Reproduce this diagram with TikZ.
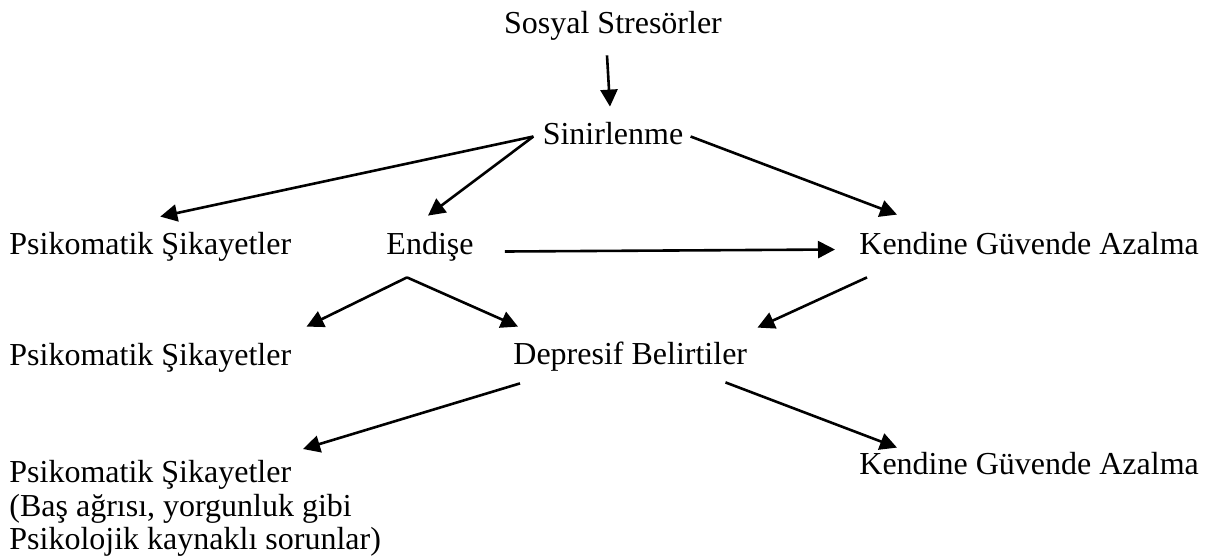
\documentclass[tikz,border=0pt]{standalone}
\usepackage{fontspec}
\setmainfont{Liberation Serif}
\usetikzlibrary{arrows.meta}

\begin{document}
\begin{tikzpicture}[x=0.5pt,y=-0.5pt]
		\tikzset{>={Triangle[length=8.5pt,width=8.5pt]}}
		\tikzset{lbl/.style={inner sep=0pt,font=\fontsize{16}{16.75}\selectfont,text height=11pt,text depth=3.5pt}}
		\tikzset{arr/.style={->,line width=1.3pt}}
		
		\useasboundingbox (0,0) rectangle (1211,558);
		
		\node[lbl,anchor=base] (sos) at (613,33) {Sosyal Stresörler};
		\node[lbl,anchor=base] (sin) at (613,144) {Sinirlenme};
		
		\node[lbl,anchor=base west] (psk1) at (9,254) {Psikomatik Şikayetler};
		\node[lbl,anchor=base] (end) at (430,254) {Endişe};
		\node[lbl,anchor=base west] (kgv1) at (859,254) {Kendine Güvende Azalma};
		
		\node[lbl,anchor=base west] (psk2) at (9,365) {Psikomatik Şikayetler};
		\node[lbl,anchor=base west] (dep) at (513,364) {Depresif Belirtiler};
		
		\node[inner sep=0pt,font=\fontsize{16}{16.75}\selectfont,align=left,anchor=north west] (psk3) at (9,460)
			{Psikomatik Şikayetler\\(Baş ağrısı, yorgunluk gibi\\Psikolojik kaynaklı sorunlar)};
		\node[lbl,anchor=base west] (kgv2) at (859,474) {Kendine Güvende Azalma};
		
		\coordinate (sinL) at ([shift={(-9,0)}]sin.west);
		\coordinate (endS) at ([shift={(-23,16)}]end.south);
		
		\draw[arr] ([shift={(-6,15)}]sos.south) -- ([shift={(-3,-15)}]sin.north);
		
		\draw[arr] (sinL) -- ([shift={(10,-15)}]psk1.north);
		\draw[arr] (sinL) -- ([shift={(-2,-16)}]end.north);
		\draw[arr] ([shift={(7,0)}]sin.east) -- ([shift={(38,-17)}]kgv1.north west);
		
		\draw[arr] ([shift={(31,5)}]end.east) -- ([shift={(-24,3)}]kgv1.west);
		
		\draw[arr] (endS) -- ([shift={(15,-16)}]psk2.north east);
		\draw[arr] (endS) -- ([shift={(5,-15)}]dep.north west);
		\draw[arr] ([shift={(8,16)}]kgv1.south west) -- ([shift={(10,-14)}]dep.north east);
		
		\draw[arr] ([shift={(7,12)}]dep.south west) -- ([shift={(294,-11)}]psk3.north west);
		\draw[arr] ([shift={(-22,11)}]dep.south east) -- ([shift={(38,-4)}]kgv2.north west);
		
	\end{tikzpicture}
\end{document}
